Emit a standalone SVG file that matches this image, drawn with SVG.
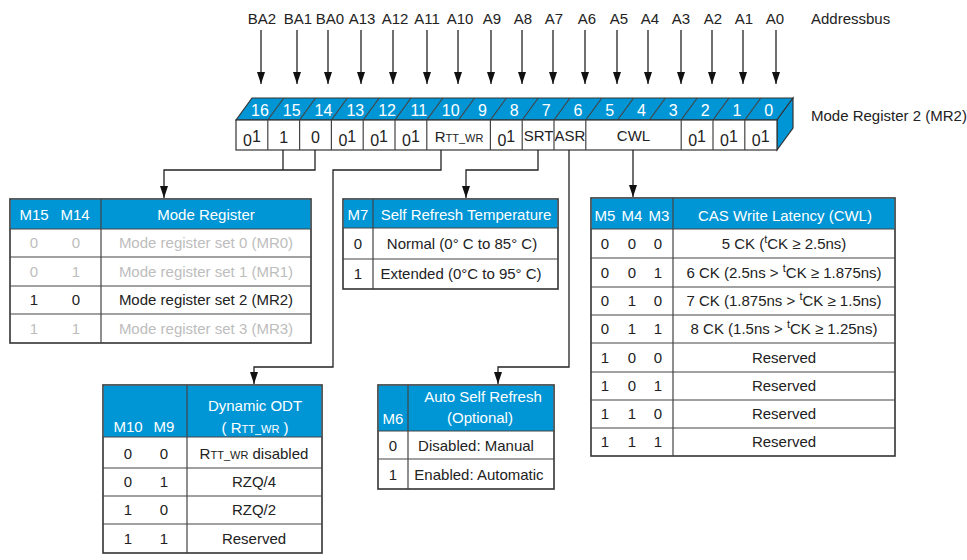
<svg xmlns="http://www.w3.org/2000/svg" width="967" height="560" viewBox="0 0 967 560">
<defs>
<style>
text{font-family:"Liberation Sans",Arial,sans-serif;font-size:15px;fill:#222}
.m{text-anchor:middle}
.w{fill:#fff}
.g{fill:#bdbdbd}
.ln{fill:none;stroke:#222;stroke-width:1.3}
.tb{fill:#fff;stroke:#333;stroke-width:1.6}
.hd{fill:#0096d6;stroke:none}
.rl{stroke:#444;stroke-width:1.2}
.blue{fill:#0096d6;stroke:#333;stroke-width:1.2}
.cell{fill:#fff;stroke:#333;stroke-width:1.2}
.sm{font-size:11px}
.rc{font-size:16px}
</style>
<marker id="ah" viewBox="0 0 12 8" refX="12" refY="4" markerWidth="12" markerHeight="8" markerUnits="userSpaceOnUse" orient="auto">
<path d="M0,0 L12,4 L0,8 z" fill="#111"/>
</marker>
</defs>
<rect width="967" height="560" fill="#fff"/>

<g id="addressbus">
<text class="m" x="262" y="24">BA2</text>
<text class="m" x="298" y="24">BA1</text>
<text class="m" x="330" y="24">BA0</text>
<text class="m" x="362" y="24">A13</text>
<text class="m" x="395" y="24">A12</text>
<text class="m" x="427" y="24">A11</text>
<text class="m" x="460" y="24">A10</text>
<text class="m" x="492" y="24">A9</text>
<text class="m" x="523" y="24">A8</text>
<text class="m" x="554" y="24">A7</text>
<text class="m" x="587" y="24">A6</text>
<text class="m" x="619" y="24">A5</text>
<text class="m" x="650" y="24">A4</text>
<text class="m" x="681" y="24">A3</text>
<text class="m" x="713" y="24">A2</text>
<text class="m" x="744" y="24">A1</text>
<text class="m" x="775" y="24">A0</text>
<text x="811" y="24">Addressbus</text>
</g>

<g id="register">
<polygon class="blue" points="236,120 252,98 793,98 777,120"/>
<polygon class="blue" points="777,120 793,98 793,128 777,150"/>
<g class="rl" fill="none">
<line x1="267.8" y1="120" x2="283.8" y2="98"/>
<line x1="299.6" y1="120" x2="315.6" y2="98"/>
<line x1="331.4" y1="120" x2="347.4" y2="98"/>
<line x1="363.2" y1="120" x2="379.2" y2="98"/>
<line x1="395" y1="120" x2="411" y2="98"/>
<line x1="426.8" y1="120" x2="442.8" y2="98"/>
<line x1="458.6" y1="120" x2="474.6" y2="98"/>
<line x1="490.4" y1="120" x2="506.4" y2="98"/>
<line x1="522.2" y1="120" x2="538.2" y2="98"/>
<line x1="554" y1="120" x2="570" y2="98"/>
<line x1="585.8" y1="120" x2="601.8" y2="98"/>
<line x1="617.6" y1="120" x2="633.6" y2="98"/>
<line x1="649.4" y1="120" x2="665.4" y2="98"/>
<line x1="681.2" y1="120" x2="697.2" y2="98"/>
<line x1="713" y1="120" x2="729" y2="98"/>
<line x1="744.8" y1="120" x2="760.8" y2="98"/>
</g>
<g class="rc">
<text class="m w rc" x="260" y="116">16</text>
<text class="m w rc" x="291.7" y="116">15</text>
<text class="m w rc" x="323.5" y="116">14</text>
<text class="m w rc" x="355.3" y="116">13</text>
<text class="m w rc" x="387.1" y="116">12</text>
<text class="m w rc" x="418.9" y="116">11</text>
<text class="m w rc" x="450.7" y="116">10</text>
<text class="m w rc" x="482.5" y="116">9</text>
<text class="m w rc" x="514.3" y="116">8</text>
<text class="m w rc" x="546.1" y="116">7</text>
<text class="m w rc" x="577.9" y="116">6</text>
<text class="m w rc" x="609.7" y="116">5</text>
<text class="m w rc" x="641.5" y="116">4</text>
<text class="m w rc" x="673.3" y="116">3</text>
<text class="m w rc" x="705.1" y="116">2</text>
<text class="m w rc" x="736.9" y="116">1</text>
<text class="m w rc" x="768.7" y="116">0</text>
</g>
<rect class="cell" x="236" y="120" width="541" height="30"/>
<g class="rl">
<line x1="267.8" y1="120" x2="267.8" y2="150"/>
<line x1="299.6" y1="120" x2="299.6" y2="150"/>
<line x1="331.4" y1="120" x2="331.4" y2="150"/>
<line x1="363.2" y1="120" x2="363.2" y2="150"/>
<line x1="395" y1="120" x2="395" y2="150"/>
<line x1="426.8" y1="120" x2="426.8" y2="150"/>
<line x1="490.4" y1="120" x2="490.4" y2="150"/>
<line x1="522.2" y1="120" x2="522.2" y2="150"/>
<line x1="554" y1="120" x2="554" y2="150"/>
<line x1="585.8" y1="120" x2="585.8" y2="150"/>
<line x1="681.2" y1="120" x2="681.2" y2="150"/>
<line x1="713" y1="120" x2="713" y2="150"/>
<line x1="744.8" y1="120" x2="744.8" y2="150"/>
</g>
<text class="m rc" x="252" y="146">0<tspan dy="-4">1</tspan></text>
<text class="m rc" x="283.7" y="143">1</text>
<text class="m rc" x="315.5" y="143">0</text>
<text class="m rc" x="347.3" y="146">0<tspan dy="-4">1</tspan></text>
<text class="m rc" x="379.1" y="146">0<tspan dy="-4">1</tspan></text>
<text class="m rc" x="410.9" y="146">0<tspan dy="-4">1</tspan></text>
<text class="m" x="459" y="142">R<tspan class="sm">TT_WR</tspan></text>
<text class="m rc" x="506.3" y="146">0<tspan dy="-4">1</tspan></text>
<text class="m" x="538.5" y="141" font-size="14">SRT</text>
<text class="m" x="570" y="141" font-size="14">ASR</text>
<text class="m" x="633.5" y="141">CWL</text>
<text class="m rc" x="697.1" y="146">0<tspan dy="-4">1</tspan></text>
<text class="m rc" x="728.9" y="146">0<tspan dy="-4">1</tspan></text>
<text class="m rc" x="760.7" y="146">0<tspan dy="-4">1</tspan></text>
<text x="811" y="121">Mode Register 2 (MR2)</text>
</g>

<g id="t-mode">
<rect class="tb" x="10" y="199" width="301" height="144"/>
<rect class="hd" x="10.8" y="199.8" width="299.4" height="29.2"/>
<g class="rl">
<line x1="10" y1="229" x2="311" y2="229"/>
<line x1="10" y1="257" x2="311" y2="257"/>
<line x1="10" y1="286" x2="311" y2="286"/>
<line x1="10" y1="314" x2="311" y2="314"/>
<line x1="101" y1="199" x2="101" y2="343"/>
</g>
<text class="m w" x="34" y="220">M15</text>
<text class="m w" x="75" y="220">M14</text>
<text class="m w" x="206" y="220">Mode Register</text>
<text class="m g" x="34" y="248">0</text><text class="m g" x="76" y="248">0</text>
<text class="m g" x="206" y="248">Mode register set 0 (MR0)</text>
<text class="m g" x="34" y="277">0</text><text class="m g" x="76" y="277">1</text>
<text class="m g" x="206" y="277">Mode register set 1 (MR1)</text>
<text class="m" x="34" y="305">1</text><text class="m" x="76" y="305">0</text>
<text class="m" x="206" y="305">Mode register set 2 (MR2)</text>
<text class="m g" x="34" y="334">1</text><text class="m g" x="76" y="334">1</text>
<text class="m g" x="206" y="334">Mode register set 3 (MR3)</text>
</g>

<g id="t-srt">
<rect class="tb" x="343" y="199" width="215" height="90"/>
<rect class="hd" x="343.8" y="199.8" width="213.4" height="28.2"/>
<g class="rl">
<line x1="343" y1="228" x2="558" y2="228"/>
<line x1="343" y1="259" x2="558" y2="259"/>
<line x1="373" y1="199" x2="373" y2="289"/>
</g>
<text class="m w" x="358" y="220">M7</text>
<text class="m w" x="466" y="220">Self Refresh Temperature</text>
<text class="m" x="358" y="249">0</text>
<text class="m" x="462" y="249">Normal (0° C to 85° C)</text>
<text class="m" x="358" y="279">1</text>
<text class="m" x="461" y="279">Extended (0°C to 95° C)</text>
</g>

<g id="t-cwl">
<rect class="tb" x="591" y="198" width="304" height="258"/>
<rect class="hd" x="591.8" y="198.8" width="302.4" height="30.2"/>
<g class="rl">
<line x1="591" y1="229" x2="895" y2="229"/>
<line x1="591" y1="258" x2="895" y2="258"/>
<line x1="591" y1="287" x2="895" y2="287"/>
<line x1="591" y1="315" x2="895" y2="315"/>
<line x1="591" y1="343" x2="895" y2="343"/>
<line x1="591" y1="372" x2="895" y2="372"/>
<line x1="591" y1="400" x2="895" y2="400"/>
<line x1="591" y1="428" x2="895" y2="428"/>
<line x1="673" y1="198" x2="673" y2="456"/>
</g>
<text class="m w" x="605" y="221">M5</text>
<text class="m w" x="632" y="221">M4</text>
<text class="m w" x="659" y="221">M3</text>
<text class="m w" x="785" y="221">CAS Write Latency (CWL)</text>
<text class="m" x="605" y="249">0</text><text class="m" x="632" y="249">0</text><text class="m" x="658" y="249">0</text>
<text class="m" x="784" y="249">5 CK (<tspan class="sm" dy="-6">t</tspan><tspan dy="6">CK ≥ 2.5ns)</tspan></text>
<text class="m" x="605" y="278">0</text><text class="m" x="632" y="278">0</text><text class="m" x="658" y="278">1</text>
<text class="m" x="784" y="278">6 CK (2.5ns &gt; <tspan class="sm" dy="-6">t</tspan><tspan dy="6">CK ≥ 1.875ns)</tspan></text>
<text class="m" x="605" y="306">0</text><text class="m" x="632" y="306">1</text><text class="m" x="658" y="306">0</text>
<text class="m" x="784" y="306">7 CK (1.875ns &gt; <tspan class="sm" dy="-6">t</tspan><tspan dy="6">CK ≥ 1.5ns)</tspan></text>
<text class="m" x="605" y="334">0</text><text class="m" x="632" y="334">1</text><text class="m" x="658" y="334">1</text>
<text class="m" x="784" y="334">8 CK (1.5ns &gt; <tspan class="sm" dy="-6">t</tspan><tspan dy="6">CK ≥ 1.25ns)</tspan></text>
<text class="m" x="605" y="363">1</text><text class="m" x="632" y="363">0</text><text class="m" x="658" y="363">0</text>
<text class="m" x="784" y="363">Reserved</text>
<text class="m" x="605" y="391">1</text><text class="m" x="632" y="391">0</text><text class="m" x="658" y="391">1</text>
<text class="m" x="784" y="391">Reserved</text>
<text class="m" x="605" y="419">1</text><text class="m" x="632" y="419">1</text><text class="m" x="658" y="419">0</text>
<text class="m" x="784" y="419">Reserved</text>
<text class="m" x="605" y="447">1</text><text class="m" x="632" y="447">1</text><text class="m" x="658" y="447">1</text>
<text class="m" x="784" y="447">Reserved</text>
</g>

<g id="t-odt">
<rect class="tb" x="103" y="385" width="219" height="168"/>
<rect class="hd" x="103.8" y="385.8" width="217.4" height="51.2"/>
<g class="rl">
<line x1="103" y1="437" x2="322" y2="437"/>
<line x1="103" y1="468" x2="322" y2="468"/>
<line x1="103" y1="496" x2="322" y2="496"/>
<line x1="103" y1="524" x2="322" y2="524"/>
<line x1="187" y1="385" x2="187" y2="553"/>
</g>
<text class="m w" x="128" y="432">M10</text>
<text class="m w" x="164" y="432">M9</text>
<text class="m w" x="255" y="411">Dynamic ODT</text>
<text class="m w" x="255" y="433">( R<tspan class="sm">TT_WR</tspan> )</text>
<text class="m" x="128" y="459">0</text><text class="m" x="164" y="459">0</text>
<text class="m" x="254" y="459">R<tspan class="sm">TT_WR</tspan> disabled</text>
<text class="m" x="128" y="487">0</text><text class="m" x="164" y="487">1</text>
<text class="m" x="254" y="487">RZQ/4</text>
<text class="m" x="128" y="515">1</text><text class="m" x="164" y="515">0</text>
<text class="m" x="254" y="515">RZQ/2</text>
<text class="m" x="128" y="544">1</text><text class="m" x="164" y="544">1</text>
<text class="m" x="254" y="544">Reserved</text>
</g>

<g id="t-asr">
<rect class="tb" x="378" y="385" width="176" height="104"/>
<rect class="hd" x="378.8" y="385.8" width="174.4" height="45.2"/>
<g class="rl">
<line x1="378" y1="431" x2="554" y2="431"/>
<line x1="378" y1="459" x2="554" y2="459"/>
<line x1="408" y1="385" x2="408" y2="489"/>
</g>
<text class="m w" x="393" y="424">M6</text>
<text class="m w" x="483" y="402">Auto Self Refresh</text>
<text class="m w" x="480" y="423">(Optional)</text>
<text class="m" x="393" y="451">0</text>
<text class="m" x="476" y="451">Disabled: Manual</text>
<text class="m" x="393" y="480">1</text>
<text class="m" x="479" y="480">Enabled: Automatic</text>
</g>

<g id="connectors" class="ln">
<line x1="261" y1="30" x2="261" y2="84" marker-end="url(#ah)"/>
<line x1="297" y1="30" x2="297" y2="84" marker-end="url(#ah)"/>
<line x1="328" y1="30" x2="328" y2="84" marker-end="url(#ah)"/>
<line x1="361" y1="30" x2="361" y2="84" marker-end="url(#ah)"/>
<line x1="393" y1="30" x2="393" y2="84" marker-end="url(#ah)"/>
<line x1="427" y1="30" x2="427" y2="84" marker-end="url(#ah)"/>
<line x1="458" y1="30" x2="458" y2="84" marker-end="url(#ah)"/>
<line x1="491" y1="30" x2="491" y2="84" marker-end="url(#ah)"/>
<line x1="522" y1="30" x2="522" y2="84" marker-end="url(#ah)"/>
<line x1="553" y1="30" x2="553" y2="84" marker-end="url(#ah)"/>
<line x1="585" y1="30" x2="585" y2="84" marker-end="url(#ah)"/>
<line x1="617" y1="30" x2="617" y2="84" marker-end="url(#ah)"/>
<line x1="648" y1="30" x2="648" y2="84" marker-end="url(#ah)"/>
<line x1="681" y1="30" x2="681" y2="84" marker-end="url(#ah)"/>
<line x1="712" y1="30" x2="712" y2="84" marker-end="url(#ah)"/>
<line x1="743" y1="30" x2="743" y2="84" marker-end="url(#ah)"/>
<line x1="776" y1="30" x2="776" y2="84" marker-end="url(#ah)"/>
<line x1="283" y1="150" x2="283" y2="170"/>
<polyline points="315,150 315,170 164,170 164,198" marker-end="url(#ah)"/>
<polyline points="441,150 441,170 333,170 333,367 254,367 254,384" marker-end="url(#ah)"/>
<polyline points="538,150 538,170 466,170 466,198" marker-end="url(#ah)"/>
<polyline points="569,150 569,367 498,367 498,384" marker-end="url(#ah)"/>
<polyline points="633,150 633,197" marker-end="url(#ah)"/>
</g>
</svg>
